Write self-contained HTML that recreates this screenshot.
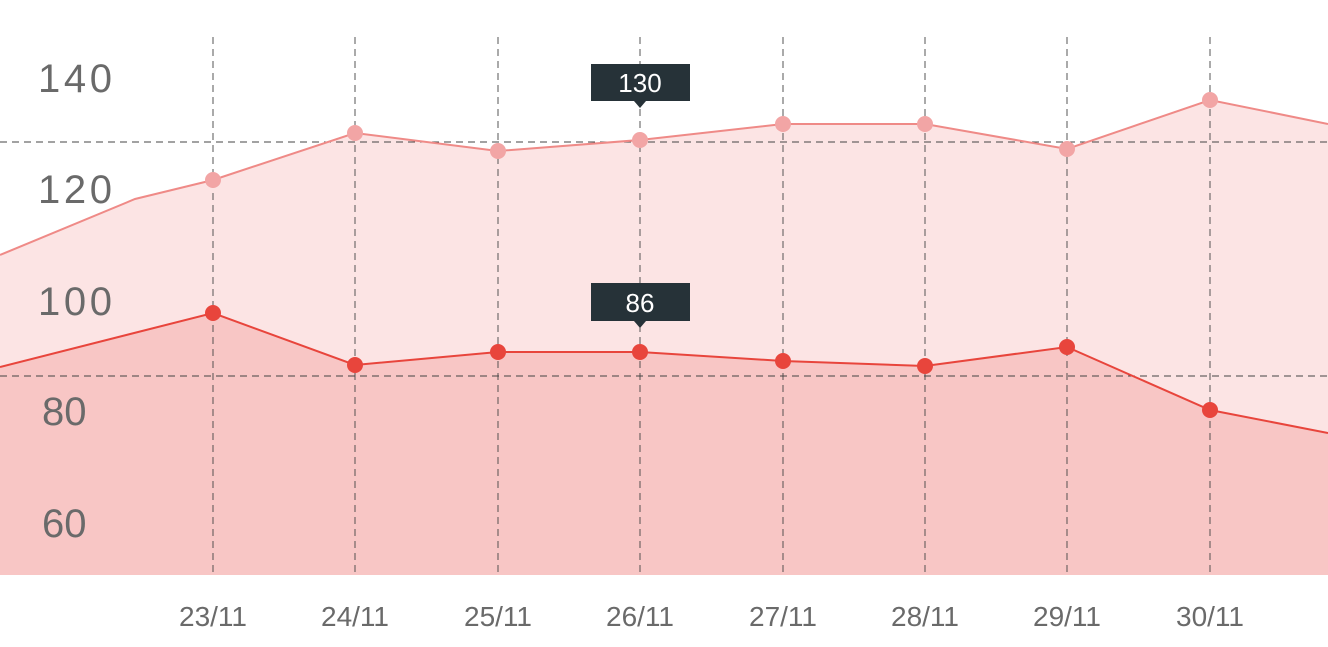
<!DOCTYPE html>
<html><head><meta charset="utf-8"><style>
html,body{margin:0;padding:0;background:#fff;}
svg{display:block;font-family:"Liberation Sans",sans-serif;}
</style></head><body>
<svg width="1328" height="647" viewBox="0 0 1328 647" xmlns="http://www.w3.org/2000/svg">
<polygon fill="#fce4e4" points="0,255 135,199 213,180 355,133 498,151 640,140 783,124 925,124 1067,149 1210,100 1328,124 1328,575 0,575"/>
<polygon fill="#f8c6c5" points="0,367 213,313 355,365 498,352 640,352 783,361 925,366 1067,347 1210,410 1328,433 1328,575 0,575"/>
<g stroke="#444" stroke-width="0.9" stroke-dasharray="7,5" fill="none">
<line x1="213" y1="37" x2="213" y2="575"/><line x1="355" y1="37" x2="355" y2="575"/>
<line x1="498" y1="37" x2="498" y2="575"/><line x1="640" y1="37" x2="640" y2="575"/>
<line x1="783" y1="37" x2="783" y2="575"/><line x1="925" y1="37" x2="925" y2="575"/>
<line x1="1067" y1="37" x2="1067" y2="575"/><line x1="1210" y1="37" x2="1210" y2="575"/>
<line x1="0" y1="142" x2="1328" y2="142"/><line x1="0" y1="376" x2="1328" y2="376"/>
</g>
<polyline fill="none" stroke="#ef8a87" stroke-width="2" points="0,255 135,199 213,180 355,133 498,151 640,140 783,124 925,124 1067,149 1210,100 1328,124"/>
<polyline fill="none" stroke="#e8453c" stroke-width="2" points="0,367 213,313 355,365 498,352 640,352 783,361 925,366 1067,347 1210,410 1328,433"/>
<g fill="#f2a5a5">
<circle cx="213" cy="180" r="8"/><circle cx="355" cy="133" r="8"/><circle cx="498" cy="151" r="8"/><circle cx="640" cy="140" r="8"/>
<circle cx="783" cy="124" r="8"/><circle cx="925" cy="124" r="8"/><circle cx="1067" cy="149" r="8"/><circle cx="1210" cy="100" r="8"/>
</g>
<g fill="#e8453c">
<circle cx="213" cy="313" r="8"/><circle cx="355" cy="365" r="8"/><circle cx="498" cy="352" r="8"/><circle cx="640" cy="352" r="8"/>
<circle cx="783" cy="361" r="8"/><circle cx="925" cy="366" r="8"/><circle cx="1067" cy="347" r="8"/><circle cx="1210" cy="410" r="8"/>
</g>
<g fill="#263238">
<rect x="591" y="64" width="99" height="37"/><polygon points="634,101 646,101 640,108"/>
<rect x="591" y="283" width="99" height="38"/><polygon points="634,321 646,321 640,328"/>
</g>
<g fill="#fff" font-size="26" text-anchor="middle">
<text x="640" y="92">130</text><text x="640" y="312">86</text>
</g>
<g fill="#6a6a6a" font-size="40">
<text x="38" y="92" textLength="74">140</text><text x="38" y="203" textLength="74">120</text><text x="38" y="315" textLength="74">100</text>
<text x="42" y="425">80</text><text x="42" y="537">60</text>
</g>
<g fill="#6a6a6a" font-size="28" text-anchor="middle">
<text x="213" y="626">23/11</text><text x="355" y="626">24/11</text><text x="498" y="626">25/11</text><text x="640" y="626">26/11</text>
<text x="783" y="626">27/11</text><text x="925" y="626">28/11</text><text x="1067" y="626">29/11</text><text x="1210" y="626">30/11</text>
</g>
</svg>
</body></html>
